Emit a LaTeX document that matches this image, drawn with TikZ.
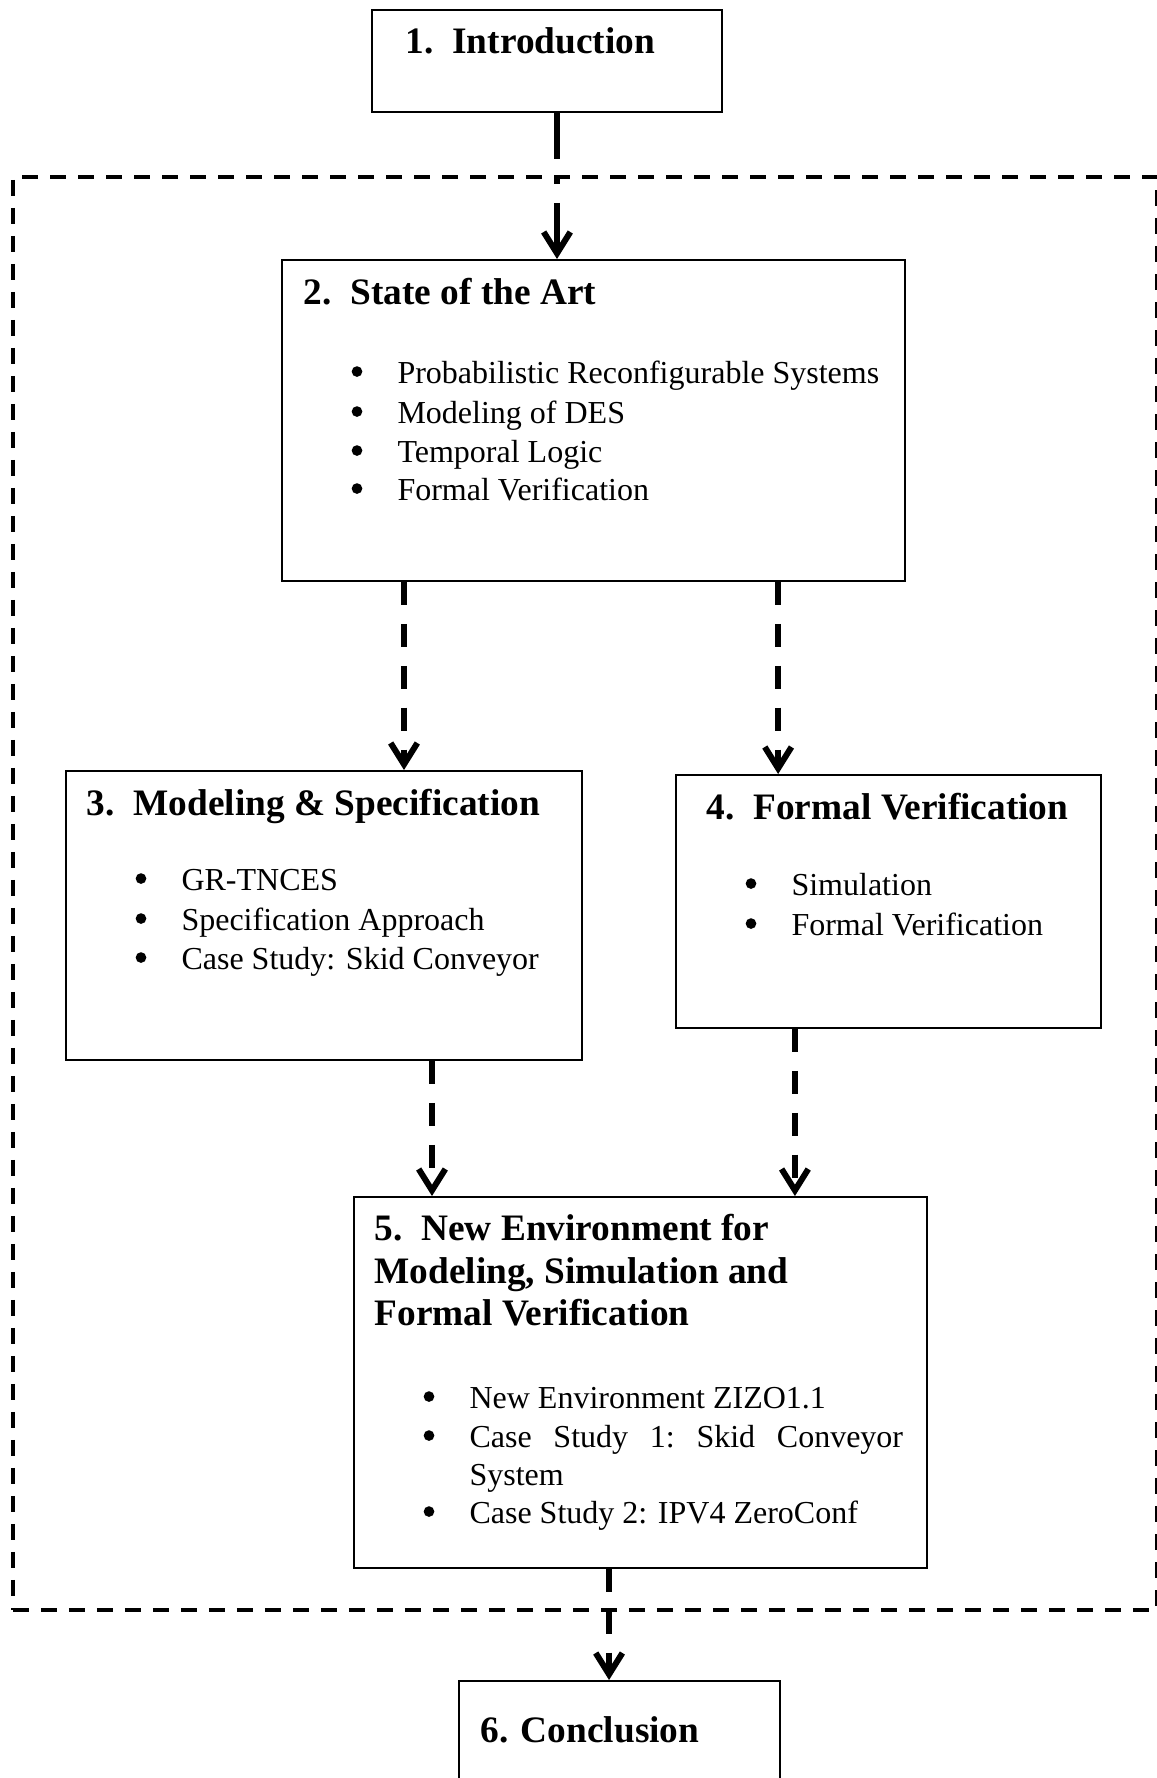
\documentclass[tikz,border=0pt]{standalone}
\usepackage{fontspec}
\setmainfont{Liberation Serif}
\usetikzlibrary{arrows.meta}
% section number followed by a fixed tab
\newcommand{\secnum}[1]{\makebox[17.6pt][l]{#1}}

\begin{document}
\begin{tikzpicture}[x=0.375pt, y=-0.375pt,
  box/.style={draw, line width=0.75pt, rectangle, anchor=north west, inner sep=0pt},
  frame/.style={draw, line width=1.4pt, dash pattern=on 6pt off 4.5pt, rectangle, anchor=north west, inner sep=0pt},
  conn/.style={line width=2.25pt, dash pattern=on 8.6pt off 7.1pt, -{Straight Barb[length=8pt,width=10pt]}},
  head/.style={font=\fontsize{14pt}{16pt}\selectfont\bfseries, anchor=base west, inner sep=0pt},
  item/.style={font=\fontsize{12pt}{14.5pt}\selectfont, anchor=base west, inner sep=0pt},
  dot/.style={fill=black}]

\clip (0,0) rectangle (1157,1778);

% dashed frame around the core chapters
\node[frame, minimum width=429pt, minimum height=537.4pt] (core) at (11,175) {};

% chapter boxes
\node[box, minimum width=131.25pt, minimum height=38.25pt] (intro) at (371,9) {};
\node[box, minimum width=233.6pt, minimum height=120.4pt] (art) at (281,259) {};
\node[box, minimum width=193.5pt, minimum height=108.4pt] (model) at (65,770) {};
\node[box, minimum width=159.4pt, minimum height=94.9pt] (verif) at (675,774) {};
\node[box, minimum width=214.9pt, minimum height=139.1pt] (env) at (353,1196) {};
\node[box, minimum width=120.4pt, minimum height=45pt] (concl) at (458,1680) {};

% 1. Introduction
\node[head] (introT) at (405,53) {\secnum{1.}Introduction};

% 2. State of the Art
\node[head] (artT) at (303,304) {\secnum{2.}State of the Art};
\node[item] (artA) at (397,383) {Probabilistic Reconfigurable Systems};
\node[item] (artB) at (397,423) {Modeling of DES};
\node[item] (artC) at (397,462) {Temporal Logic};
\node[item] (artD) at (397,500) {Formal Verification};

% 3. Modeling & Specification
\node[head] (modelT) at (86,815) {\secnum{3.}Modeling \& Specification};
\node[item] (modelA) at (181,890) {GR-TNCES};
\node[item] (modelB) at (181,930) {Specification Approach};
\node[item] (modelC) at (181,969) {Case Study: Skid Conveyor};

% 4. Formal Verification
\node[head] (verifT) at (706,819) {\secnum{4.}Formal Verification};
\node[item] (verifA) at (791,895) {Simulation};
\node[item] (verifB) at (791,935) {Formal Verification};

% 5. New Environment
\node[head] (envT1) at (374,1240) {\secnum{5.}New Environment for};
\node[head] (envT2) at (374,1283) {Modeling, Simulation and};
\node[head] (envT3) at (374,1325) {Formal Verification};
\node[item] (envA) at (469,1408) {New Environment ZIZO1.1};
\node[item] (envB) at (469,1447) {\makebox[162.6pt][s]{Case\hfill Study\hfill 1:\hfill Skid\hfill Conveyor}};
\node[item] (envB2) at (469,1485) {System};
\node[item] (envC) at (469,1523) {Case Study 2: IPV4 ZeroConf};

% 6. Conclusion
\node[head] (conclT) at (480,1742) {6. Conclusion};

% list bullets, set before each item
\foreach \it in {artA,artB,artC,artD,modelA,modelB,modelC,verifA,verifB,envA,envB,envC}
  \fill[dot] ([xshift=-15pt,yshift=4.3pt]\it.base west) circle[radius=2pt];

% connectors
\draw[conn, dash pattern=on 17.25pt off 7.1pt on 2.25pt off 7.1pt on 40pt]
  ([xshift=3.75pt]intro.south) -- ([xshift=3.75pt]intro.south |- art.north);
\draw[conn] ([xshift=30pt]model.north |- art.south) -- ([xshift=30pt]model.north);
\draw[conn] ([xshift=-41.4pt]verif.north |- art.south) -- ([xshift=-41.4pt]verif.north);
\draw[conn] ([xshift=40.5pt]model.south) -- ([xshift=40.5pt]model.south |- env.north);
\draw[conn] ([xshift=-35.1pt]verif.south) -- ([xshift=-35.1pt]verif.south |- env.north);
\draw[conn] ([xshift=-11.8pt]env.south) -- ([xshift=-11.8pt]env.south |- concl.north);
\end{tikzpicture}
\end{document}
